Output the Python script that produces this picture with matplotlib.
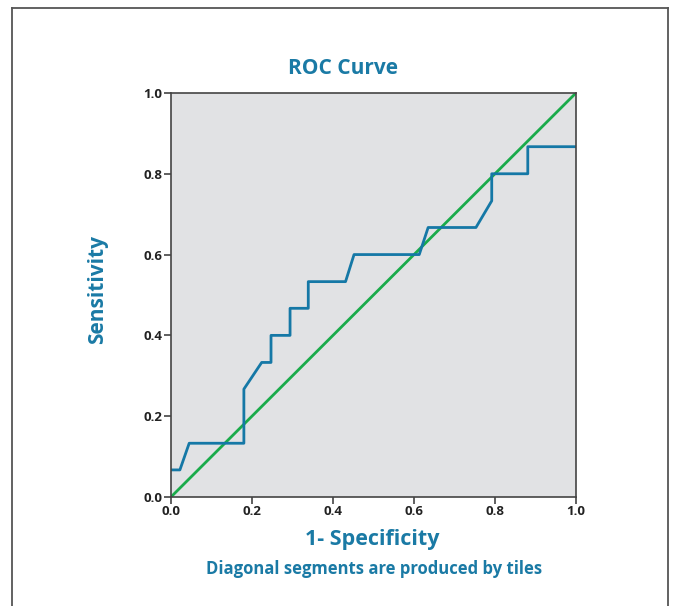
import matplotlib
matplotlib.use("Agg")
import matplotlib.pyplot as plt
from matplotlib.lines import Line2D

# ROC curve points (1 - specificity, sensitivity)
fpr = [0.0, 0.022, 0.045, 0.180, 0.180, 0.224, 0.247, 0.247, 0.294, 0.294,
       0.339, 0.339, 0.431, 0.452, 0.613, 0.635, 0.753, 0.792, 0.792,
       0.881, 0.881, 1.0]
tpr = [0.067, 0.067, 0.133, 0.133, 0.267, 0.333, 0.333, 0.400, 0.400, 0.467,
       0.467, 0.533, 0.533, 0.600, 0.600, 0.667, 0.667, 0.733, 0.800,
       0.800, 0.867, 0.867]
ref_x = [0.0, 1.0]
ref_y = [0.0, 1.0]
ticks = [0.0, 0.2, 0.4, 0.6, 0.8, 1.0]
tick_labels = ["0.0", "0.2", "0.4", "0.6", "0.8", "1.0"]

blue = "#1578a6"
green = "#1aab4b"
txt = "#1a7aa5"

plt.rcParams['font.family'] = ['Open Sans', 'DejaVu Sans']

fig = plt.figure(figsize=(6.75, 6.06), dpi=100)
ax = fig.add_axes([0.2533, 0.1799, 0.6, 0.6667])
ax.set_facecolor("#e1e2e4")

ax.plot(ref_x, ref_y, color=green, lw=2.0, solid_capstyle="butt")
ax.plot(fpr, tpr, color=blue, lw=2.0)

ax.set_xlim(0, 1)
ax.set_ylim(0, 1)
ax.set_xticks(ticks)
ax.set_xticklabels(tick_labels)
ax.set_yticks(ticks)
ax.set_yticklabels(tick_labels)
for lab in ax.get_xticklabels() + ax.get_yticklabels():
    lab.set_fontweight("bold")
    lab.set_fontsize(9.5)
    lab.set_color("#222222")
ax.tick_params(direction="out", length=5, width=1.2, color="#444444", pad=1)
for s in ax.spines.values():
    s.set_color("#444444")
    s.set_linewidth(1.2)

fig.text(343 / 675, 1 - 68 / 606, "ROC Curve", ha="center", va="center",
         fontsize=15, fontweight="bold", color=txt)
fig.text(372 / 675, 1 - 540 / 606, "1- Specificity", ha="center", va="center",
         fontsize=15.5, fontweight="bold", color=txt)
fig.text(374 / 675, 1 - 569 / 606, "Diagonal segments are produced by tiles",
         ha="center", va="center", fontsize=12, fontweight="bold", color=txt)
fig.text(98 / 675, 1 - 290 / 606, "Sensitivity", ha="center", va="center",
         rotation=90, fontsize=15, fontweight="bold", color=txt)

# outer frame
fx0, fx1, fy0 = 12 / 675, 668 / 675, 1 - 8 / 606
for xs, ys in [([fx0, fx1], [fy0, fy0]), ([fx0, fx0], [fy0, -0.1]),
               ([fx1, fx1], [fy0, -0.1])]:
    fig.add_artist(Line2D(xs, ys, transform=fig.transFigure, color="#555555",
                          lw=1.3))

fig.savefig("out.png", dpi=100)
